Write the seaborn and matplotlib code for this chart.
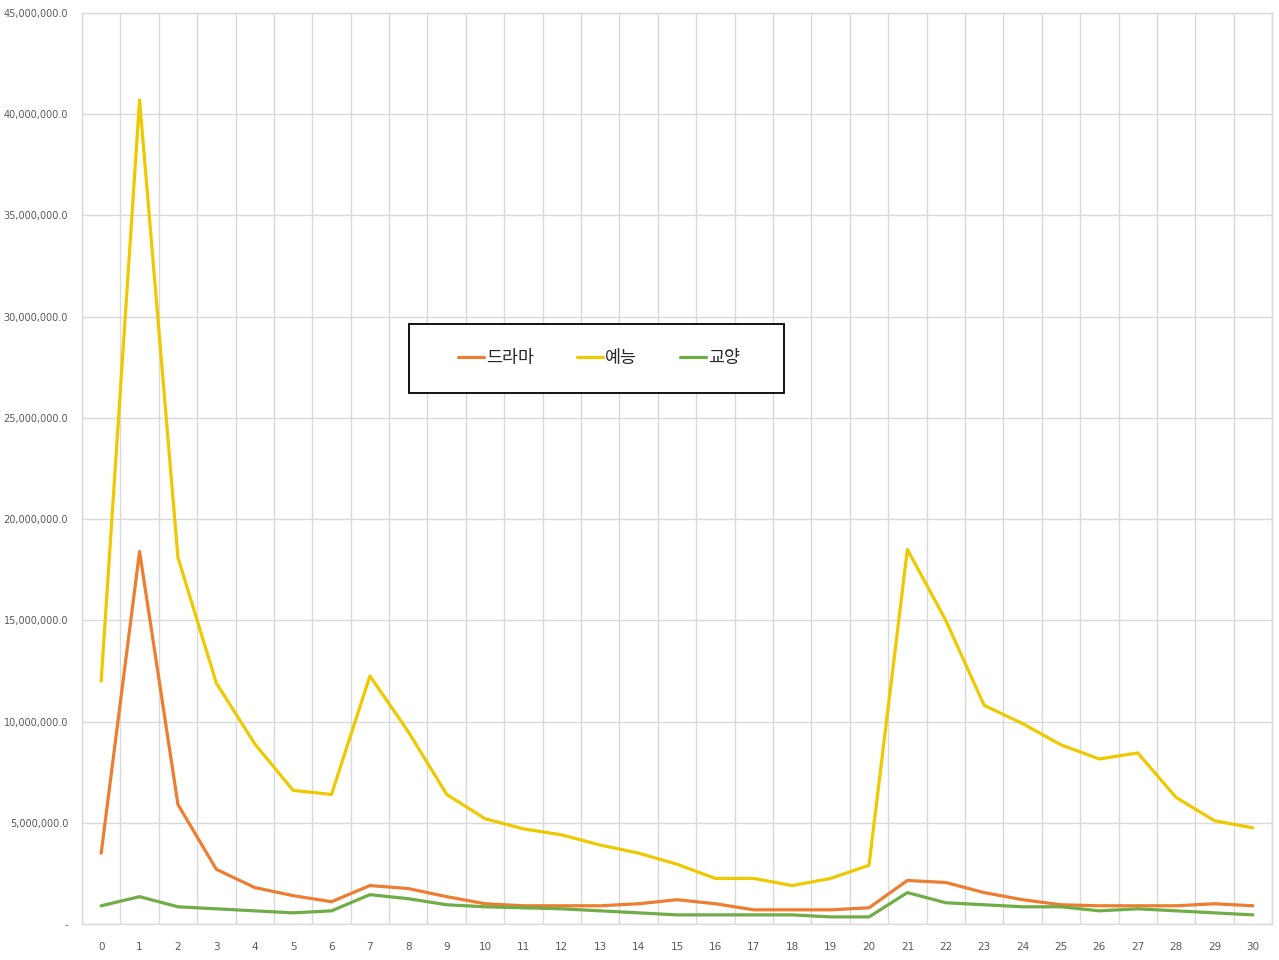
import numpy as np
import pandas as pd
import matplotlib
matplotlib.use("Agg")
import matplotlib.pyplot as plt
import matplotlib.ticker as mticker
from matplotlib.patches import Rectangle
import seaborn as sns

# ======================================
# Data
# ======================================

days = list(range(31))

drama = [3.5, 18.4, 5.9, 2.7, 1.8, 1.4, 1.1, 1.9, 1.75, 1.35,
         1.0, 0.9, 0.9, 0.9, 1.0, 1.2, 1.0, 0.7, 0.7, 0.7,
         0.8, 2.15, 2.05, 1.55, 1.2, 0.95, 0.9, 0.9, 0.9, 1.0, 0.9]

variety = [12.0, 40.7, 18.1, 11.9, 8.9, 6.6, 6.4, 12.25, 9.5, 6.4,
           5.2, 4.7, 4.4, 3.9, 3.5, 2.95, 2.25, 2.25, 1.9, 2.25,
           2.9, 18.5, 15.0, 10.8, 9.9, 8.85, 8.15, 8.45, 6.25, 5.1, 4.75]

culture = [0.9, 1.35, 0.85, 0.75, 0.65, 0.55, 0.65, 1.45, 1.25, 0.95,
           0.85, 0.8, 0.75, 0.65, 0.55, 0.45, 0.45, 0.45, 0.45, 0.35,
           0.35, 1.55, 1.05, 0.95, 0.85, 0.85, 0.65, 0.75, 0.65, 0.55, 0.45]

series_names = ["드라마", "예능", "교양"]
colors = ["#ED7D31", "#EEC900", "#70AD47"]

df = pd.DataFrame({
    "day": days * 3,
    "value": np.array(drama + variety + culture) * 1_000_000,
    "genre": [series_names[0]] * 31 + [series_names[1]] * 31 + [series_names[2]] * 31,
})

# ======================================
# Plot
# ======================================

sns.set_theme(style="white")
plt.rcParams["font.family"] = ["Noto Sans CJK KR", "DejaVu Sans"]

fig = plt.figure(figsize=(12.79, 9.6), dpi=100)
ax = fig.add_axes([0.0641, 0.0375, 0.9305, 0.949])

sns.lineplot(
    data=df,
    x="day",
    y="value",
    hue="genre",
    hue_order=series_names,
    palette=colors,
    linewidth=2.3,
    ax=ax,
)

ax.set_xlim(-0.5, 30.5)
ax.set_ylim(0, 45_000_000)

ax.set_xticks(days)
ax.set_xticklabels([str(d) for d in days])
ax.xaxis.set_minor_locator(mticker.FixedLocator(np.arange(-0.5, 31, 1)))
ax.set_yticks(np.arange(0, 45_000_001, 5_000_000))


def fmt_y(v, pos):
    if v == 0:
        return "-"
    return f"{v:,.1f}"


ax.yaxis.set_major_formatter(mticker.FuncFormatter(fmt_y))

ax.grid(axis="y", which="major", color="#D9D9D9", linewidth=1)
ax.grid(axis="x", which="minor", color="#D9D9D9", linewidth=1)
ax.grid(axis="x", which="major", visible=False)

ax.tick_params(axis="both", which="both", length=0)
ax.tick_params(axis="x", pad=13, labelsize=7.5, labelcolor="#595959")
ax.tick_params(axis="y", pad=10, labelsize=7, labelcolor="#595959")
for lab in ax.get_xticklabels() + ax.get_yticklabels():
    lab.set_family("DejaVu Sans")

for s in ax.spines.values():
    s.set_color("#D9D9D9")
    s.set_linewidth(1)

ax.set_xlabel("")
ax.set_ylabel("")

# legend without frame, box drawn separately
handles, labels = ax.get_legend_handles_labels()
ax.legend(
    handles,
    labels,
    ncol=3,
    loc="center",
    bbox_to_anchor=(599 / 1279, 1 - 358 / 960),
    bbox_transform=fig.transFigure,
    frameon=False,
    fontsize=12.5,
    handlelength=1.5,
    handletextpad=0.1,
    columnspacing=2.5,
)

box = Rectangle(
    (409 / 1279, 1 - 393 / 960),
    375 / 1279,
    69 / 960,
    transform=fig.transFigure,
    facecolor="white",
    edgecolor="black",
    linewidth=1.3,
    zorder=4,
)
ax.add_patch(box)
ax.get_legend().set_zorder(5)

plt.savefig("out.png", dpi=100)
